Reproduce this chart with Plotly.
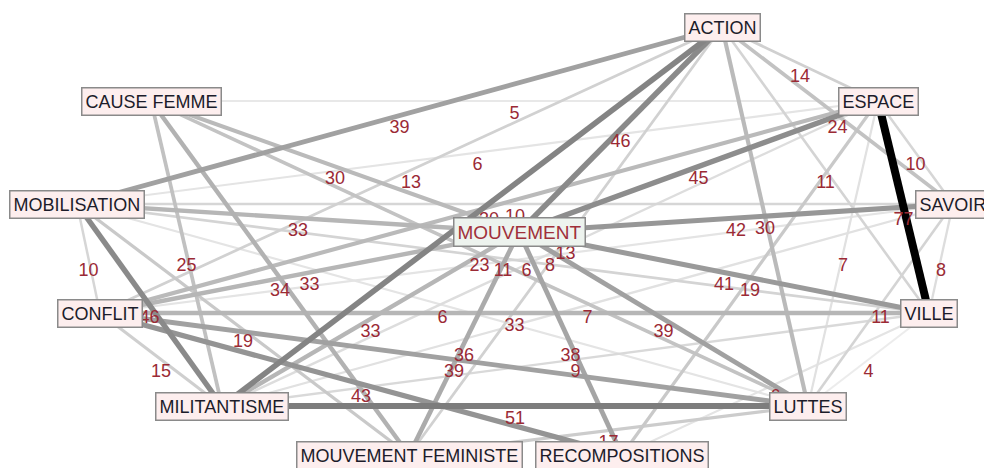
import numpy as np
import plotly.graph_objects as go

# ---- data ----
node_names = ["ACTION", "ESPACE", "SAVOIR", "VILLE", "LUTTES", "RECOMPOSITIONS",
              "MOUVEMENT FEMINISTE", "MILITANTISME", "CONFLIT", "MOBILISATION",
              "CAUSE FEMME", "MOUVEMENT"]
node_x = [722, 878, 953, 929, 808, 622, 409, 222, 100, 77, 151, 519]
node_y = [27, 101, 204, 313, 406, 455, 455, 406, 313, 204, 101, 232]

edge_source = ["MOBILISATION", "CAUSE FEMME", "ACTION", "ACTION", "MOBILISATION",
               "CAUSE FEMME", "CONFLIT", "MOUVEMENT", "ACTION", "ESPACE",
               "ACTION", "ESPACE", "MOUVEMENT", "ACTION", "ESPACE",
               "SAVOIR", "MOUVEMENT", "ESPACE", "SAVOIR", "VILLE",
               "MOUVEMENT", "MILITANTISME", "CONFLIT", "MOBILISATION", "MILITANTISME",
               "MOUVEMENT FEMINISTE", "CONFLIT", "MOUVEMENT", "MILITANTISME", "CONFLIT",
               "MILITANTISME", "MOUVEMENT FEMINISTE", "MOBILISATION", "CONFLIT", "MOBILISATION",
               "MOBILISATION", "CAUSE FEMME", "CAUSE FEMME", "MOBILISATION", "CONFLIT",
               "CAUSE FEMME", "MOBILISATION", "CONFLIT", "MILITANTISME", "MOUVEMENT FEMINISTE",
               "CONFLIT", "MOBILISATION", "ACTION", "RECOMPOSITIONS"]
edge_target = ["ACTION", "ESPACE", "MOUVEMENT", "ESPACE", "ESPACE",
               "MOUVEMENT", "ACTION", "ESPACE", "SAVOIR", "SAVOIR",
               "VILLE", "VILLE", "SAVOIR", "LUTTES", "LUTTES",
               "VILLE", "VILLE", "RECOMPOSITIONS", "LUTTES", "LUTTES",
               "LUTTES", "SAVOIR", "VILLE", "LUTTES", "MOUVEMENT",
               "MOUVEMENT", "LUTTES", "RECOMPOSITIONS", "VILLE", "RECOMPOSITIONS",
               "LUTTES", "LUTTES", "MOUVEMENT FEMINISTE", "MILITANTISME", "MILITANTISME",
               "CONFLIT", "MILITANTISME", "MOUVEMENT FEMINISTE", "MOUVEMENT", "MOUVEMENT",
               "LUTTES", "VILLE", "SAVOIR", "ESPACE", "ACTION",
               "ESPACE", "SAVOIR", "MILITANTISME", "VILLE"]
edge_weight = [39, 5, 46, 14, 6,
               30, 13, 45, 24, 10,
               11, 77, 42, 30, 7,
               8, 41, 19, 11, 4,
               39, 7, 33, 6, 33,
               36, 39, 38, 9, 43,
               51, 17, 19, 15, 46,
               10, 25, 34, 33, 33,
               23, 11, 6, 8, 13,
               30, 10, 48, 6]

# ---- figure ----
pos = {n: (x, y) for n, x, y in zip(node_names, node_x, node_y)}
fig = go.Figure()

order = np.argsort(edge_weight, kind="stable")
lab_x, lab_y, lab_t = [], [], []
for i in order:
    s, t, w = edge_source[i], edge_target[i], edge_weight[i]
    x0, y0 = pos[s]
    x1, y1 = pos[t]
    g = int(np.interp(w, [4, 10, 20, 33, 46, 51, 77], [236, 214, 200, 182, 138, 125, 0]))
    lw = float(np.interp(w, [4, 77], [2, 8]))
    fig.add_trace(go.Scatter(x=[x0, x1], y=[y0, y1], mode="lines",
                             line=dict(color=f"rgb({g},{g},{g})", width=lw),
                             hoverinfo="skip", showlegend=False))
    lab_x.append((x0 + x1) / 2)
    lab_y.append((y0 + y1) / 2 + 13)
    lab_t.append(str(w))

fig.add_trace(go.Scatter(x=lab_x, y=lab_y, text=lab_t, mode="text",
                         textposition="middle center",
                         textfont=dict(family="Liberation Sans, Arial", size=18, color="#9b2a35"),
                         hoverinfo="skip", showlegend=False))

for n, x, y in zip(node_names, node_x, node_y):
    central = n == "MOUVEMENT"
    fig.add_annotation(x=x, y=y, text=n, showarrow=False,
                       font=dict(family="Liberation Sans, Arial",
                                 size=19 if central else 18,
                                 color="#a0303a" if central else "#1c1c2a"),
                       bgcolor="#edf3ee" if central else "#fdeeee",
                       bordercolor="#8a8a8a", borderwidth=1.5, borderpad=3)

# page body has an 8px margin: size the figure to the remaining area
fig.update_layout(width=984, height=460, margin=dict(l=0, r=0, t=0, b=0),
                  paper_bgcolor="white", plot_bgcolor="white",
                  xaxis=dict(range=[8, 992], visible=False, fixedrange=True),
                  yaxis=dict(range=[468, 8], visible=False, fixedrange=True))
fig.write_html("out.html")
